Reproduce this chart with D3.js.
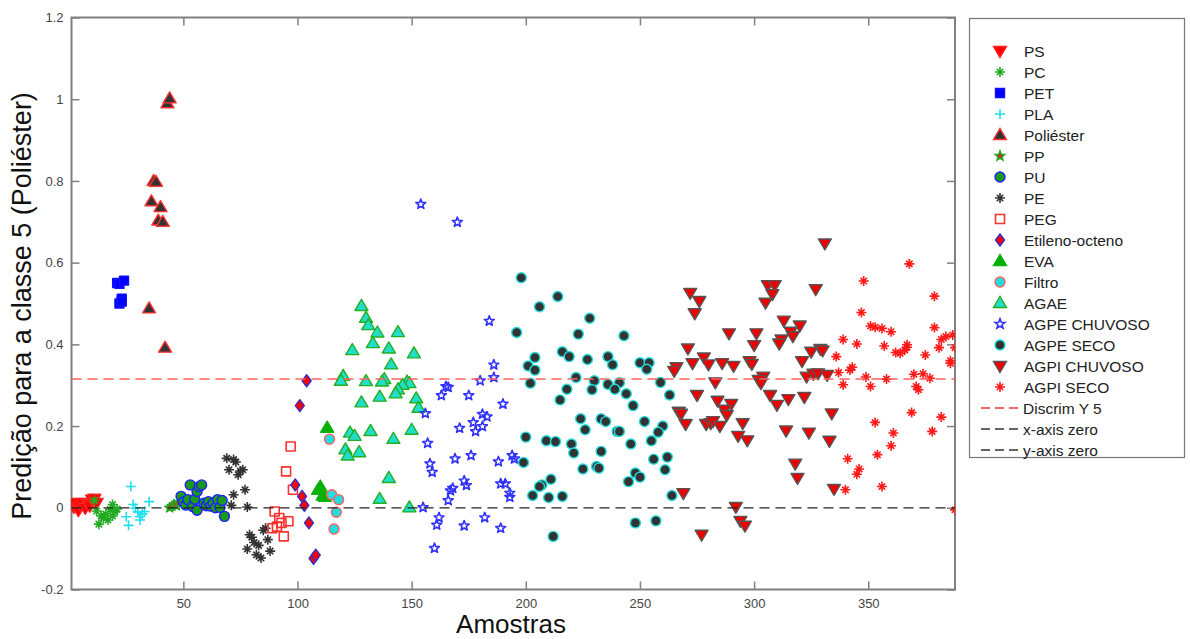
<!DOCTYPE html>
<html>
<head>
<meta charset="utf-8">
<script src="https://cdn.jsdelivr.net/npm/d3@7"></script>
<style>
  body { margin: 0; background: #fff; }
  svg { display: block; font-family: "Liberation Sans", Arial, sans-serif; }
</style>
</head>
<body>
<svg id="chart" width="1190" height="639"></svg>
<script>
// ---- data: [sample index, predicted value for class 5] ----
const PS = [[1,0.010],[2,0.002],[3,0.012],[4,-0.006],[5,0.006],[6,0.012],[7,0.0],[8,0.010],[9,0.005],[10,0.020],[11,0.022],[12,0.012]];
const PC = [[11,0.018],[12,-0.008],[13,-0.040],[14,-0.020],[15,-0.025],[16,-0.015],[17,-0.030],[18,-0.004],[19,0.008],[19,-0.020],[20,-0.010],[21,-0.003]];
const PET = [[21,0.550],[22,0.548],[24,0.556],[22,0.500],[23,0.512],[23,0.505]];
const PLA = [[25,-0.022],[26,-0.043],[27,0.052],[28,0.008],[29,-0.001],[30,-0.010],[31,-0.030],[31,-0.022],[32,-0.015],[33,-0.009],[35,0.015]];
const POLIESTER = [[35,0.488],[36,0.750],[37,0.800],[38,0.798],[39,0.703],[40,0.736],[41,0.700],[42,0.392],[43,0.990],[44,1.002]];
const PP = [[44,0.000],[45,0.004],[46,0.008],[47,0.005],[48,0.012]];
const PU = [[49,0.028],[50,0.014],[51,0.007],[52,0.020],[53,0.056],[54,0.003],[55,0.021],[56,-0.006],[56,0.040],[57,0.052],[58,0.056],[59,0.011],[60,0.005],[61,0.015],[62,0.004],[63,0.011],[64,0.000],[65,0.020],[66,0.001],[67,0.018],[68,-0.021]];
const PE = [[69,0.121],[70,0.093],[71,0.006],[72,0.032],[72,0.118],[73,0.112],[74,0.081],[75,0.090],[76,0.093],[77,0.044],[78,0.002],[78,-0.101],[79,-0.066],[80,-0.072],[81,-0.085],[82,-0.115],[83,-0.092],[84,-0.123],[85,-0.055],[86,-0.050],[87,-0.078],[88,-0.106]];
const PEG = [[89,-0.050],[90,-0.009],[91,-0.046],[92,-0.025],[93,-0.037],[94,-0.070],[95,0.089],[96,-0.033],[97,0.150],[98,0.044]];
const ETILENO = [[99,0.056],[101,0.250],[102,0.028],[103,0.006],[104,0.311],[105,-0.037],[107,-0.124],[108,-0.116]];
const EVA = [[109,0.044],[110,0.052],[111,0.030],[112,0.027],[113,0.196]];
const FILTRO = [[114,0.168],[115,0.032],[116,-0.052],[117,-0.011],[118,0.020]];
const AGAE = [[128,0.494],[130,0.465],[131,0.447],[135,0.429],[144,0.430],[133,0.403],[124,0.386],[140,0.390],[141,0.351],[151,0.378],[120,0.323],[119,0.311],[130,0.310],[138,0.315],[137,0.309],[148,0.309],[149,0.305],[146,0.301],[144,0.290],[143,0.280],[136,0.272],[128,0.258],[152,0.268],[153,0.245],[123,0.184],[125,0.176],[132,0.188],[150,0.191],[142,0.169],[121,0.143],[122,0.128],[127,0.136],[140,0.073],[136,0.022],[149,0.001]];
const AGPE_CHUVOSO = [[154,0.743],[170,0.699],[184,0.457],[186,0.350],[186,0.319],[180,0.311],[165,0.297],[166,0.295],[163,0.275],[175,0.275],[190,0.254],[156,0.231],[181,0.229],[183,0.223],[177,0.209],[171,0.195],[181,0.199],[178,0.187],[157,0.158],[194,0.128],[195,0.120],[176,0.128],[169,0.120],[188,0.113],[158,0.108],[159,0.087],[173,0.066],[174,0.055],[168,0.048],[167,0.042],[166,0.018],[189,0.059],[191,0.059],[193,0.036],[193,0.026],[155,0.001],[162,-0.024],[161,-0.042],[173,-0.044],[182,-0.024],[189,-0.050],[160,-0.099]];
const AGPE_SECO = [[198,0.563],[214,0.517],[206,0.492],[228,0.464],[196,0.429],[223,0.425],[243,0.421],[216,0.382],[219,0.370],[204,0.368],[236,0.370],[227,0.363],[238,0.350],[201,0.347],[204,0.337],[250,0.355],[254,0.355],[253,0.339],[222,0.319],[202,0.305],[230,0.311],[236,0.302],[241,0.306],[259,0.307],[218,0.290],[229,0.289],[239,0.290],[244,0.279],[263,0.276],[215,0.264],[247,0.250],[224,0.218],[233,0.218],[235,0.211],[252,0.211],[226,0.191],[240,0.187],[241,0.187],[260,0.200],[258,0.185],[200,0.173],[209,0.164],[213,0.162],[255,0.164],[220,0.156],[246,0.156],[221,0.134],[233,0.138],[199,0.111],[256,0.119],[262,0.124],[225,0.095],[231,0.101],[232,0.097],[261,0.093],[211,0.070],[207,0.056],[206,0.052],[248,0.085],[250,0.075],[245,0.064],[203,0.030],[210,0.025],[216,0.028],[264,0.030],[248,-0.037],[257,-0.032],[212,-0.070]];
const AGPI_CHUVOSO = [[331,0.647],[306,0.545],[309,0.545],[308,0.523],[305,0.502],[327,0.535],[272,0.526],[276,0.506],[274,0.476],[313,0.458],[320,0.446],[316,0.431],[317,0.420],[312,0.412],[311,0.402],[289,0.427],[301,0.427],[300,0.398],[271,0.390],[325,0.382],[329,0.389],[330,0.385],[278,0.368],[321,0.359],[273,0.354],[280,0.351],[286,0.354],[291,0.347],[298,0.359],[299,0.352],[266,0.344],[265,0.335],[323,0.321],[326,0.328],[328,0.329],[332,0.325],[304,0.321],[302,0.313],[303,0.305],[283,0.307],[307,0.276],[315,0.266],[322,0.271],[310,0.252],[275,0.276],[284,0.262],[290,0.254],[287,0.240],[288,0.227],[267,0.235],[268,0.230],[270,0.205],[279,0.205],[281,0.207],[282,0.212],[285,0.200],[295,0.207],[293,0.176],[297,0.165],[314,0.189],[324,0.184],[334,0.231],[333,0.164],[318,0.108],[319,0.073],[335,0.046],[269,0.036],[292,0.002],[294,-0.032],[296,-0.044],[277,-0.066]];
const AGPI_SECO = [[368,0.597],[348,0.555],[379,0.518],[347,0.478],[351,0.445],[353,0.442],[356,0.439],[360,0.431],[379,0.441],[339,0.412],[345,0.401],[357,0.396],[382,0.412],[384,0.419],[387,0.423],[381,0.392],[388,0.392],[362,0.380],[364,0.378],[366,0.386],[367,0.393],[367,0.399],[336,0.370],[375,0.374],[386,0.360],[386,0.354],[343,0.344],[342,0.337],[337,0.331],[349,0.320],[358,0.315],[370,0.327],[374,0.328],[377,0.317],[339,0.301],[351,0.297],[371,0.297],[372,0.289],[369,0.233],[382,0.222],[353,0.209],[378,0.187],[361,0.183],[360,0.152],[354,0.130],[341,0.120],[346,0.095],[345,0.082],[340,0.044],[356,0.052],[388,-0.005]];

// reference lines
const DISCRIM_Y5 = 0.315;
const ZERO = 0;

// axis settings
const X_DOMAIN = [1, 388];
const Y_DOMAIN = [-0.2, 1.2];
const X_TICKS = [50, 100, 150, 200, 250, 300, 350];
const Y_TICKS = [-0.2, 0, 0.2, 0.4, 0.6, 0.8, 1, 1.2];

const LABELS = ["PS","PC","PET","PLA","Poliéster","PP","PU","PE","PEG","Etileno-octeno","EVA","Filtro","AGAE","AGPE CHUVOSO","AGPE SECO","AGPI CHUVOSO","AGPI SECO"];
const LINE_LABELS = ["Discrim Y 5","x-axis zero","y-axis zero"];

// ---- marker shapes ----
function markerPath(type) {
  const p = d3.path();
  switch (type) {
    case "triUp": p.moveTo(0,-6.5); p.lineTo(6.5,4.5); p.lineTo(-6.5,4.5); p.closePath(); break;
    case "triDown": p.moveTo(0,6.5); p.lineTo(6.5,-4.5); p.lineTo(-6.5,-4.5); p.closePath(); break;
    case "square": p.rect(-4.5,-4.5,9,9); break;
    case "diamond": p.moveTo(0,-6); p.lineTo(4.5,0); p.lineTo(0,6); p.lineTo(-4.5,0); p.closePath(); break;
    case "circle": p.arc(0,0,5,0,2*Math.PI); p.closePath(); break;
    case "plus": p.moveTo(-5,0); p.lineTo(5,0); p.moveTo(0,-5); p.lineTo(0,5); break;
    case "asterisk":
      p.moveTo(-5,0); p.lineTo(5,0); p.moveTo(0,-5); p.lineTo(0,5);
      p.moveTo(-3.2,-3.2); p.lineTo(3.2,3.2); p.moveTo(-3.2,3.2); p.lineTo(3.2,-3.2); break;
    case "star": {
      const R = 5.2, r = 2.2;
      for (let i = 0; i < 10; i++) {
        const a = -Math.PI/2 + i*Math.PI/5, rad = i % 2 ? r : R;
        const px = rad*Math.cos(a), py = rad*Math.sin(a);
        if (i === 0) p.moveTo(px,py); else p.lineTo(px,py);
      }
      p.closePath(); break;
    }
  }
  return p.toString();
}

const series = [
  {data: PS,           marker: "triDown",  fill: "#ff0000", stroke: "#ff2020"},
  {data: PC,           marker: "asterisk", fill: "none",    stroke: "#22aa22"},
  {data: PET,          marker: "square",   fill: "#0000ff", stroke: "#1010ff"},
  {data: PLA,          marker: "plus",     fill: "none",    stroke: "#22e0ee"},
  {data: POLIESTER,    marker: "triUp",    fill: "#333333", stroke: "#ff3030"},
  {data: PP,           marker: "star",     fill: "#dd2222", stroke: "#22aa22"},
  {data: PU,           marker: "circle",   fill: "#1a9a1a", stroke: "#2020ff"},
  {data: PE,           marker: "asterisk", fill: "none",    stroke: "#333333"},
  {data: PEG,          marker: "square",   fill: "none",    stroke: "#ff3030"},
  {data: ETILENO,      marker: "diamond",  fill: "#ff0000", stroke: "#3030cc"},
  {data: EVA,          marker: "triUp",    fill: "#00b000", stroke: "#10b010"},
  {data: FILTRO,       marker: "circle",   fill: "#22dddd", stroke: "#ff6060"},
  {data: AGAE,         marker: "triUp",    fill: "#22ddcc", stroke: "#20b020"},
  {data: AGPE_CHUVOSO, marker: "star",     fill: "none",    stroke: "#3030ff"},
  {data: AGPE_SECO,    marker: "circle",   fill: "#333333", stroke: "#22dddd"},
  {data: AGPI_CHUVOSO, marker: "triDown",  fill: "#ee0000", stroke: "#555555"},
  {data: AGPI_SECO,    marker: "asterisk", fill: "none",    stroke: "#ff1a1a"}
];

const svg = d3.select("#chart");
const plot = {left: 71.5, right: 955, top: 17.5, bottom: 589.5};
const x = d3.scaleLinear().domain(X_DOMAIN).range([plot.left, plot.right]);
const y = d3.scaleLinear().domain(Y_DOMAIN).range([plot.bottom, plot.top]);

svg.append("defs").append("clipPath").attr("id","plotClip")
  .append("rect").attr("x",plot.left).attr("y",plot.top)
  .attr("width",plot.right-plot.left).attr("height",plot.bottom-plot.top);

// axes with inward ticks on all four sides
const axisColor = "#808080";
const tickLen = 8;
const fmtY = d => String(+d.toFixed(1));
function styleAxis(g) {
  g.select(".domain").remove();
  g.selectAll(".tick line").attr("stroke", axisColor).attr("stroke-width", 1.5);
  g.selectAll(".tick text").attr("fill", "#444").attr("font-size", 13);
}
svg.append("g").attr("transform",`translate(0,${plot.bottom})`)
  .call(d3.axisBottom(x).tickValues(X_TICKS).tickSize(-tickLen).tickPadding(9))
  .call(styleAxis);
svg.append("g").attr("transform",`translate(0,${plot.top})`)
  .call(d3.axisTop(x).tickValues(X_TICKS).tickSize(-tickLen).tickFormat(""))
  .call(styleAxis);
svg.append("g").attr("transform",`translate(${plot.left},0)`)
  .call(d3.axisLeft(y).tickValues(Y_TICKS).tickSize(-tickLen).tickPadding(8).tickFormat(fmtY))
  .call(styleAxis);
svg.append("g").attr("transform",`translate(${plot.right},0)`)
  .call(d3.axisRight(y).tickValues(Y_TICKS).tickSize(-tickLen).tickFormat(""))
  .call(styleAxis);

svg.append("rect").attr("x",plot.left).attr("y",plot.top)
  .attr("width",plot.right-plot.left).attr("height",plot.bottom-plot.top)
  .attr("fill","none").attr("stroke",axisColor).attr("stroke-width",2);

// markers
const marks = svg.append("g").attr("clip-path","url(#plotClip)");
series.forEach(s => {
  marks.append("g").selectAll("path").data(s.data).join("path")
    .attr("d", markerPath(s.marker))
    .attr("transform", d => `translate(${x(d[0])},${y(d[1])})`)
    .attr("fill", s.fill).attr("stroke", s.stroke)
    .attr("stroke-width", s.fill === "none" ? 1.6 : 1.4)
    .attr("stroke-linejoin","round");
});

// reference lines
const lines = svg.append("g").attr("clip-path","url(#plotClip)");
lines.append("line").attr("x1",plot.left).attr("x2",plot.right)
  .attr("y1",y(DISCRIM_Y5)).attr("y2",y(DISCRIM_Y5))
  .attr("stroke","#ff6060").attr("stroke-width",1.5).attr("stroke-dasharray","10,6");
lines.append("line").attr("x1",plot.left).attr("x2",plot.right)
  .attr("y1",y(ZERO)).attr("y2",y(ZERO))
  .attr("stroke","#222").attr("stroke-width",1.3).attr("stroke-dasharray","10,6");
lines.append("line").attr("x1",x(ZERO)).attr("x2",x(ZERO))
  .attr("y1",plot.top).attr("y2",plot.bottom)
  .attr("stroke","#222").attr("stroke-width",1.3).attr("stroke-dasharray","10,6");

// axis titles
svg.append("text").attr("x",511).attr("y",633)
  .attr("text-anchor","middle").attr("font-size",26).attr("fill","#111").text("Amostras");
svg.append("text").attr("transform",`translate(31,306) rotate(-90)`)
  .attr("text-anchor","middle").attr("font-size",27).attr("fill","#111")
  .text("Predição para a classe 5 (Poliéster)");

// legend
const lg = svg.append("g");
lg.append("rect").attr("x",969.5).attr("y",18.5).attr("width",215).attr("height",439)
  .attr("fill","#fff").attr("stroke","#777").attr("stroke-width",1.2);
const rowY = i => 51 + i*21;
series.forEach((s, i) => {
  lg.append("path").attr("d", markerPath(s.marker))
    .attr("transform", `translate(1000,${rowY(i)})`)
    .attr("fill", s.fill).attr("stroke", s.stroke)
    .attr("stroke-width", s.fill === "none" ? 1.6 : 1.4);
  lg.append("text").attr("x",1024).attr("y",rowY(i)+5.5)
    .attr("font-size",15.5).attr("fill","#222").text(LABELS[i]);
});
const lineColors = ["#ff3030", "#333", "#333"];
LINE_LABELS.forEach((lab, j) => {
  const yy = rowY(series.length + j);
  lg.append("line").attr("x1",981).attr("x2",1022).attr("y1",yy).attr("y2",yy)
    .attr("stroke",lineColors[j]).attr("stroke-width",1.3).attr("stroke-dasharray","9,5");
  lg.append("text").attr("x",1023).attr("y",yy+5.5)
    .attr("font-size",15.5).attr("fill","#222").text(lab);
});
</script>
</body>
</html>
